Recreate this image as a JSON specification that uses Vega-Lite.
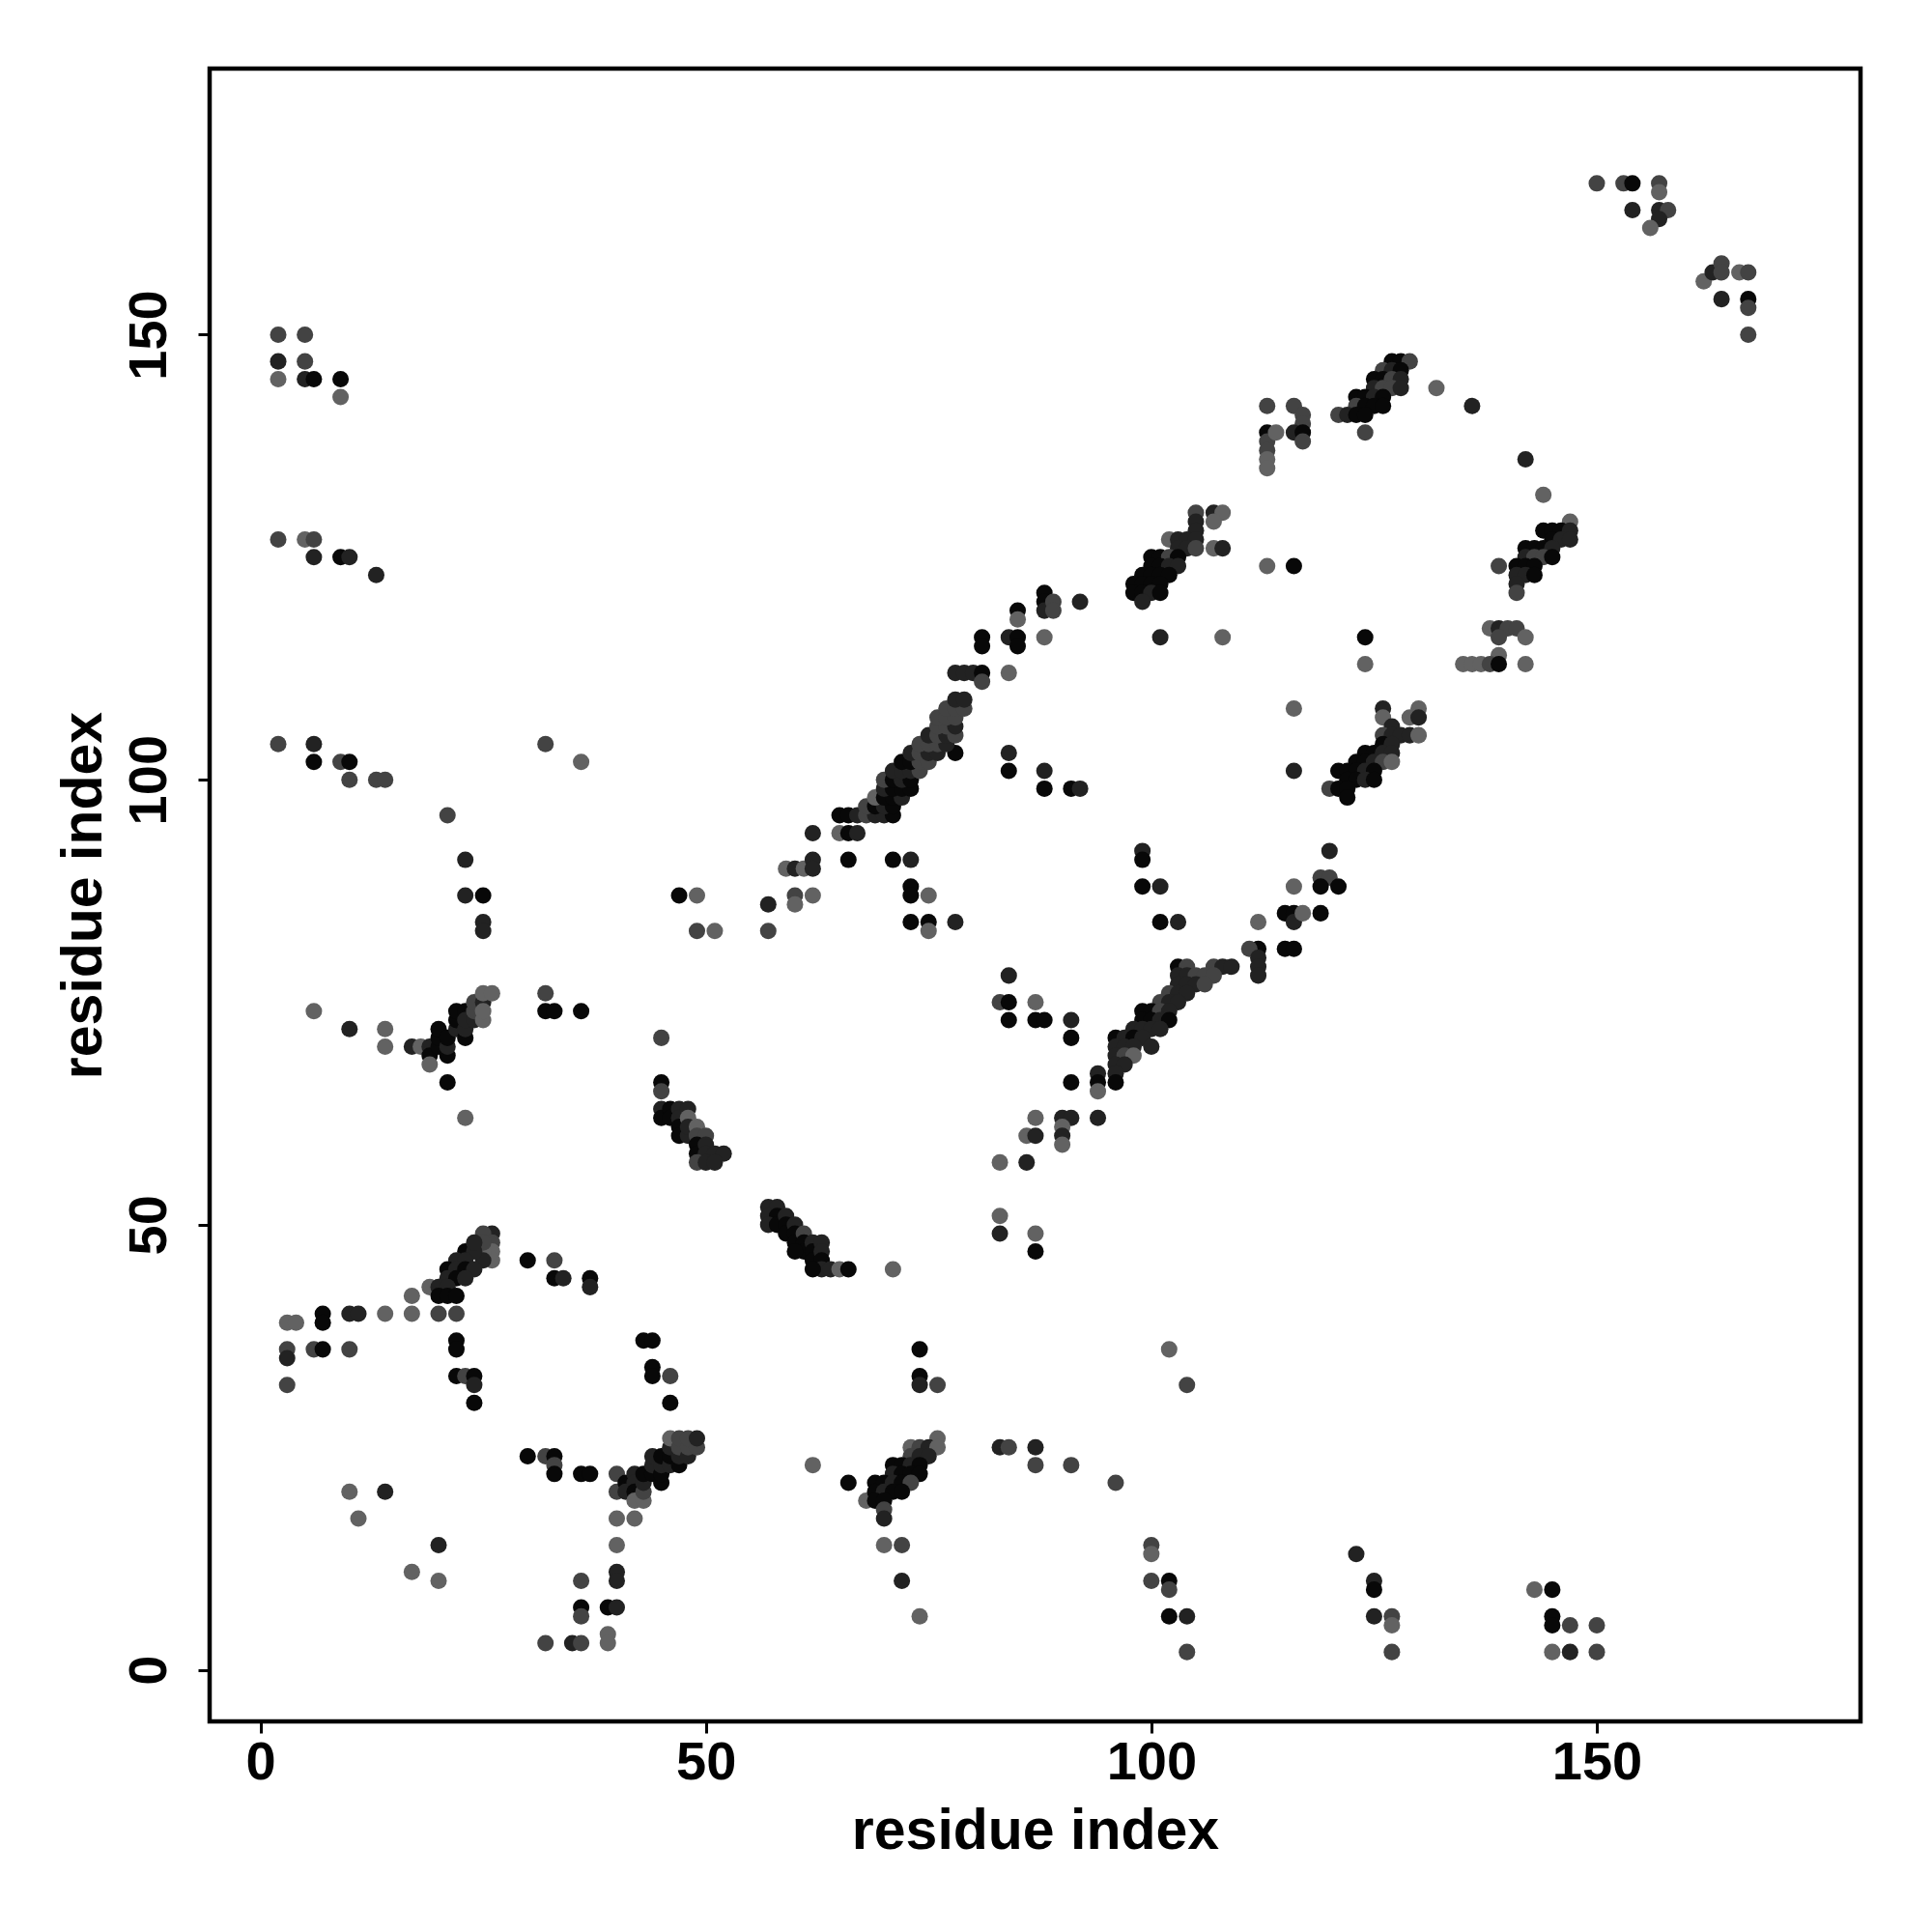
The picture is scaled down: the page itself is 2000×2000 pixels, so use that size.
{
"$schema":"https://vega.github.io/schema/vega-lite/v6.json",
"autosize":{"type":"none"},
"padding":{"left":217,"top":71,"right":74,"bottom":218},
"width":1709,"height":1711,
"background":"white",
"config":{"view":{"stroke":"#000000","strokeWidth":4.5},"font":"Liberation Sans"},
"data":{"values":[
{"x":2,"y":150,"p":0.35},{"x":5,"y":150,"p":0.35},{"x":2,"y":147,"p":0.7},{"x":5,"y":147,"p":0.35},{"x":2,"y":145,"p":0.05},{"x":5,"y":145,"p":0.7},{"x":6,"y":145,"p":0.95},{"x":9,"y":145,"p":0.95},{"x":9,"y":143,"p":0.05},
{"x":2,"y":127,"p":0.35},{"x":5,"y":127,"p":0.05},{"x":6,"y":127,"p":0.35},{"x":6,"y":125,"p":0.7},{"x":9,"y":125,"p":0.95},{"x":10,"y":125,"p":0.7},{"x":13,"y":123,"p":0.7},
{"x":2,"y":104,"p":0.35},{"x":6,"y":104,"p":0.7},{"x":6,"y":102,"p":0.95},{"x":9,"y":102,"p":0.35},{"x":10,"y":102,"p":0.95},{"x":10,"y":100,"p":0.35},{"x":13,"y":100,"p":0.35},{"x":14,"y":100,"p":0.35},
{"x":32,"y":104,"p":0.35},{"x":36,"y":102,"p":0.05},{"x":21,"y":96,"p":0.35},{"x":23,"y":91,"p":0.7},{"x":23,"y":87,"p":0.7},{"x":25,"y":87,"p":0.95},{"x":25,"y":84,"p":0.7},{"x":25,"y":83,"p":0.7},
{"x":47,"y":87,"p":0.95},{"x":49,"y":87,"p":0.05},{"x":49,"y":83,"p":0.35},{"x":51,"y":83,"p":0.05},
{"x":6,"y":74,"p":0.05},{"x":10,"y":72,"p":0.7},{"x":14,"y":72,"p":0.05},{"x":14,"y":70,"p":0.05},{"x":17,"y":70,"p":0.7},{"x":18,"y":70,"p":0.05},{"x":19,"y":70,"p":0.7},{"x":19,"y":69,"p":0.95},{"x":19,"y":68,"p":0.05},{"x":20,"y":70,"p":0.95},{"x":20,"y":71,"p":0.95},{"x":20,"y":72,"p":0.95},{"x":21,"y":69,"p":0.95},{"x":21,"y":70,"p":0.7},{"x":21,"y":71,"p":0.95},{"x":22,"y":72,"p":0.7},{"x":22,"y":73,"p":0.95},{"x":22,"y":74,"p":0.95},{"x":23,"y":74,"p":0.95},{"x":23,"y":71,"p":0.95},{"x":23,"y":72,"p":0.7},{"x":23,"y":73,"p":0.7},{"x":24,"y":73,"p":0.7},{"x":24,"y":74,"p":0.35},{"x":24,"y":75,"p":0.35},{"x":25,"y":75,"p":0.7},{"x":25,"y":76,"p":0.05},{"x":26,"y":76,"p":0.05},{"x":25,"y":73,"p":0.05},{"x":25,"y":74,"p":0.05},{"x":21,"y":66,"p":0.95},{"x":23,"y":62,"p":0.05},{"x":32,"y":76,"p":0.35},{"x":32,"y":74,"p":0.95},{"x":33,"y":74,"p":0.95},{"x":36,"y":74,"p":0.95},
{"x":45,"y":71,"p":0.35},{"x":45,"y":66,"p":0.95},{"x":45,"y":65,"p":0.35},{"x":45,"y":63,"p":0.7},{"x":45,"y":62,"p":0.95},{"x":46,"y":63,"p":0.95},{"x":46,"y":62,"p":0.95},{"x":47,"y":63,"p":0.7},{"x":47,"y":62,"p":0.7},{"x":47,"y":61,"p":0.95},{"x":48,"y":63,"p":0.7},{"x":48,"y":62,"p":0.05},{"x":47,"y":60,"p":0.95},{"x":48,"y":60,"p":0.7},{"x":48,"y":61,"p":0.7},{"x":49,"y":61,"p":0.05},{"x":49,"y":60,"p":0.35},{"x":50,"y":60,"p":0.35},{"x":49,"y":59,"p":0.95},{"x":49,"y":58,"p":0.95},{"x":50,"y":59,"p":0.7},{"x":50,"y":58,"p":0.7},{"x":51,"y":58,"p":0.7},{"x":52,"y":58,"p":0.7},{"x":49,"y":57,"p":0.35},{"x":50,"y":57,"p":0.7},{"x":51,"y":57,"p":0.7},
{"x":26,"y":49,"p":0.7},{"x":25,"y":49,"p":0.35},{"x":26,"y":48,"p":0.35},{"x":26,"y":47,"p":0.05},{"x":26,"y":46,"p":0.05},{"x":25,"y":47,"p":0.05},{"x":25,"y":46,"p":0.7},{"x":25,"y":48,"p":0.35},{"x":23,"y":47,"p":0.95},{"x":24,"y":47,"p":0.7},{"x":24,"y":48,"p":0.7},{"x":22,"y":46,"p":0.7},{"x":23,"y":46,"p":0.7},{"x":21,"y":45,"p":0.95},{"x":22,"y":45,"p":0.7},{"x":23,"y":45,"p":0.95},{"x":24,"y":45,"p":0.7},{"x":21,"y":44,"p":0.7},{"x":22,"y":44,"p":0.95},{"x":23,"y":44,"p":0.7},{"x":19,"y":43,"p":0.05},{"x":20,"y":43,"p":0.7},{"x":21,"y":43,"p":0.7},{"x":20,"y":42,"p":0.95},{"x":21,"y":42,"p":0.95},{"x":22,"y":42,"p":0.95},{"x":17,"y":42,"p":0.05},{"x":30,"y":46,"p":0.95},{"x":33,"y":46,"p":0.35},{"x":33,"y":44,"p":0.95},{"x":34,"y":44,"p":0.7},{"x":37,"y":44,"p":0.95},{"x":37,"y":43,"p":0.7},
{"x":7,"y":40,"p":0.95},{"x":10,"y":40,"p":0.7},{"x":11,"y":40,"p":0.7},{"x":14,"y":40,"p":0.05},{"x":17,"y":40,"p":0.05},{"x":20,"y":40,"p":0.35},{"x":22,"y":40,"p":0.35},
{"x":3,"y":39,"p":0.05},{"x":4,"y":39,"p":0.05},{"x":7,"y":39,"p":0.95},{"x":3,"y":36,"p":0.35},{"x":3,"y":35,"p":0.7},{"x":6,"y":36,"p":0.35},{"x":7,"y":36,"p":0.95},{"x":10,"y":36,"p":0.35},{"x":3,"y":32,"p":0.35},
{"x":22,"y":37,"p":0.95},{"x":22,"y":36,"p":0.95},{"x":22,"y":33,"p":0.95},{"x":23,"y":33,"p":0.35},{"x":24,"y":33,"p":0.95},{"x":24,"y":32,"p":0.7},{"x":24,"y":30,"p":0.95},
{"x":43,"y":37,"p":0.95},{"x":44,"y":37,"p":0.95},{"x":44,"y":34,"p":0.95},{"x":44,"y":33,"p":0.95},{"x":46,"y":33,"p":0.35},{"x":46,"y":30,"p":0.95},
{"x":30,"y":24,"p":0.95},{"x":32,"y":24,"p":0.35},{"x":33,"y":24,"p":0.95},{"x":33,"y":23,"p":0.35},{"x":33,"y":22,"p":0.95},{"x":36,"y":22,"p":0.95},{"x":37,"y":22,"p":0.95},{"x":40,"y":22,"p":0.35},{"x":40,"y":20,"p":0.35},{"x":40,"y":17,"p":0.05},{"x":42,"y":17,"p":0.05},{"x":40,"y":14,"p":0.05},{"x":40,"y":11,"p":0.7},{"x":40,"y":10,"p":0.7},{"x":39,"y":7,"p":0.95},{"x":40,"y":7,"p":0.7},{"x":39,"y":4,"p":0.05},{"x":39,"y":3,"p":0.05},{"x":36,"y":10,"p":0.35},{"x":36,"y":7,"p":0.95},{"x":36,"y":6,"p":0.35},{"x":35,"y":3,"p":0.7},{"x":36,"y":3,"p":0.35},{"x":32,"y":3,"p":0.35},
{"x":41,"y":21,"p":0.95},{"x":41,"y":20,"p":0.7},{"x":42,"y":22,"p":0.7},{"x":42,"y":21,"p":0.7},{"x":42,"y":20,"p":0.95},{"x":42,"y":19,"p":0.05},{"x":43,"y":19,"p":0.05},{"x":43,"y":20,"p":0.35},{"x":43,"y":21,"p":0.7},{"x":43,"y":22,"p":0.95},{"x":44,"y":22,"p":0.95},{"x":44,"y":23,"p":0.7},{"x":44,"y":24,"p":0.7},{"x":45,"y":21,"p":0.95},{"x":45,"y":22,"p":0.95},{"x":45,"y":23,"p":0.7},{"x":45,"y":24,"p":0.95},{"x":46,"y":23,"p":0.7},{"x":46,"y":24,"p":0.95},{"x":46,"y":25,"p":0.7},{"x":46,"y":26,"p":0.05},{"x":47,"y":23,"p":0.95},{"x":47,"y":24,"p":0.7},{"x":47,"y":25,"p":0.35},{"x":47,"y":26,"p":0.35},{"x":48,"y":24,"p":0.7},{"x":48,"y":25,"p":0.35},{"x":48,"y":26,"p":0.35},{"x":49,"y":25,"p":0.35},{"x":49,"y":26,"p":0.7},
{"x":10,"y":20,"p":0.05},{"x":14,"y":20,"p":0.7},{"x":11,"y":17,"p":0.05},{"x":20,"y":14,"p":0.7},{"x":17,"y":11,"p":0.05},{"x":20,"y":10,"p":0.05},
{"x":57,"y":52,"p":0.7},{"x":58,"y":52,"p":0.7},{"x":57,"y":51,"p":0.7},{"x":58,"y":51,"p":0.95},{"x":57,"y":50,"p":0.7},{"x":58,"y":50,"p":0.95},{"x":59,"y":51,"p":0.7},{"x":59,"y":50,"p":0.95},{"x":59,"y":49,"p":0.95},{"x":60,"y":50,"p":0.7},{"x":60,"y":49,"p":0.95},{"x":60,"y":48,"p":0.95},{"x":61,"y":49,"p":0.35},{"x":61,"y":48,"p":0.95},{"x":61,"y":47,"p":0.95},{"x":62,"y":48,"p":0.7},{"x":62,"y":47,"p":0.95},{"x":62,"y":46,"p":0.95},{"x":63,"y":48,"p":0.7},{"x":63,"y":47,"p":0.7},{"x":63,"y":46,"p":0.95},{"x":63,"y":45,"p":0.7},{"x":62,"y":45,"p":0.95},{"x":64,"y":45,"p":0.7},{"x":65,"y":45,"p":0.05},{"x":66,"y":45,"p":0.95},{"x":71,"y":45,"p":0.05},{"x":60,"y":47,"p":0.95},
{"x":57,"y":86,"p":0.7},{"x":60,"y":87,"p":0.35},{"x":60,"y":86,"p":0.05},{"x":62,"y":87,"p":0.05},{"x":57,"y":83,"p":0.35},{"x":59,"y":90,"p":0.05},{"x":60,"y":90,"p":0.7},{"x":61,"y":90,"p":0.05},{"x":62,"y":91,"p":0.7},{"x":62,"y":90,"p":0.7},{"x":62,"y":94,"p":0.7},{"x":65,"y":94,"p":0.05},{"x":66,"y":94,"p":0.95},{"x":67,"y":94,"p":0.7},{"x":66,"y":91,"p":0.95},{"x":71,"y":91,"p":0.95},{"x":73,"y":91,"p":0.7},{"x":73,"y":88,"p":0.95},{"x":73,"y":87,"p":0.95},{"x":75,"y":87,"p":0.05},{"x":73,"y":84,"p":0.95},{"x":75,"y":84,"p":0.95},{"x":75,"y":83,"p":0.05},{"x":78,"y":84,"p":0.7},
{"x":65,"y":96,"p":0.95},{"x":66,"y":96,"p":0.95},{"x":67,"y":96,"p":0.7},{"x":68,"y":96,"p":0.35},{"x":69,"y":96,"p":0.7},{"x":70,"y":96,"p":0.7},{"x":71,"y":96,"p":0.95},
{"x":68,"y":97,"p":0.35},{"x":69,"y":97,"p":0.95},{"x":70,"y":97,"p":0.7},{"x":71,"y":97,"p":0.95},
{"x":69,"y":98,"p":0.05},{"x":70,"y":98,"p":0.95},{"x":71,"y":98,"p":0.95},{"x":72,"y":98,"p":0.7},
{"x":70,"y":99,"p":0.7},{"x":71,"y":99,"p":0.95},{"x":72,"y":99,"p":0.95},{"x":73,"y":99,"p":0.95},
{"x":70,"y":100,"p":0.35},{"x":71,"y":100,"p":0.95},{"x":72,"y":100,"p":0.7},{"x":73,"y":100,"p":0.95},
{"x":71,"y":101,"p":0.7},{"x":72,"y":101,"p":0.7},{"x":73,"y":101,"p":0.7},{"x":74,"y":101,"p":0.35},
{"x":72,"y":102,"p":0.95},{"x":73,"y":102,"p":0.95},{"x":74,"y":102,"p":0.35},{"x":75,"y":102,"p":0.35},
{"x":73,"y":103,"p":0.7},{"x":74,"y":103,"p":0.35},{"x":75,"y":103,"p":0.7},{"x":76,"y":103,"p":0.7},{"x":78,"y":103,"p":0.95},
{"x":74,"y":104,"p":0.35},{"x":75,"y":104,"p":0.35},{"x":76,"y":104,"p":0.35},{"x":77,"y":104,"p":0.7},
{"x":75,"y":105,"p":0.7},{"x":76,"y":105,"p":0.35},{"x":77,"y":105,"p":0.7},{"x":78,"y":105,"p":0.35},
{"x":76,"y":106,"p":0.35},{"x":77,"y":106,"p":0.35},{"x":78,"y":106,"p":0.7},
{"x":76,"y":107,"p":0.35},{"x":77,"y":107,"p":0.35},{"x":78,"y":107,"p":0.35},
{"x":77,"y":108,"p":0.35},{"x":78,"y":108,"p":0.35},{"x":79,"y":108,"p":0.35},
{"x":78,"y":109,"p":0.7},{"x":79,"y":109,"p":0.7},
{"x":78,"y":112,"p":0.7},{"x":79,"y":112,"p":0.7},{"x":80,"y":112,"p":0.7},{"x":81,"y":112,"p":0.95},{"x":81,"y":111,"p":0.35},{"x":84,"y":112,"p":0.05},{"x":81,"y":116,"p":0.95},{"x":81,"y":115,"p":0.95},{"x":84,"y":116,"p":0.7},{"x":85,"y":116,"p":0.95},{"x":85,"y":115,"p":0.95},{"x":88,"y":116,"p":0.05},{"x":85,"y":119,"p":0.95},{"x":85,"y":118,"p":0.05},{"x":88,"y":121,"p":0.95},{"x":88,"y":120,"p":0.95},{"x":88,"y":119,"p":0.7},{"x":89,"y":120,"p":0.35},{"x":89,"y":119,"p":0.35},{"x":92,"y":120,"p":0.7},
{"x":84,"y":103,"p":0.7},{"x":84,"y":101,"p":0.95},{"x":88,"y":101,"p":0.7},{"x":88,"y":99,"p":0.95},{"x":91,"y":99,"p":0.95},{"x":92,"y":99,"p":0.7},{"x":99,"y":92,"p":0.7},{"x":99,"y":91,"p":0.95},{"x":99,"y":88,"p":0.95},{"x":101,"y":88,"p":0.7},{"x":116,"y":88,"p":0.05},{"x":116,"y":101,"p":0.7},{"x":116,"y":108,"p":0.05},
{"x":105,"y":130,"p":0.35},{"x":107,"y":130,"p":0.7},{"x":108,"y":130,"p":0.05},{"x":105,"y":129,"p":0.7},{"x":107,"y":129,"p":0.05},{"x":105,"y":128,"p":0.7},{"x":102,"y":127,"p":0.05},{"x":103,"y":127,"p":0.7},{"x":104,"y":127,"p":0.7},{"x":105,"y":127,"p":0.7},{"x":103,"y":126,"p":0.7},{"x":104,"y":126,"p":0.7},{"x":105,"y":126,"p":0.35},{"x":107,"y":126,"p":0.05},{"x":108,"y":126,"p":0.7},{"x":100,"y":125,"p":0.95},{"x":101,"y":125,"p":0.95},{"x":102,"y":125,"p":0.35},{"x":103,"y":125,"p":0.95},{"x":100,"y":124,"p":0.95},{"x":101,"y":124,"p":0.95},{"x":102,"y":124,"p":0.7},{"x":103,"y":124,"p":0.7},{"x":99,"y":123,"p":0.95},{"x":100,"y":123,"p":0.95},{"x":101,"y":123,"p":0.95},{"x":102,"y":123,"p":0.95},{"x":98,"y":122,"p":0.95},{"x":99,"y":122,"p":0.95},{"x":100,"y":122,"p":0.95},{"x":101,"y":122,"p":0.95},{"x":98,"y":121,"p":0.95},{"x":99,"y":121,"p":0.95},{"x":100,"y":121,"p":0.7},{"x":101,"y":121,"p":0.95},{"x":99,"y":120,"p":0.7},
{"x":113,"y":124,"p":0.05},{"x":116,"y":124,"p":0.95},{"x":101,"y":116,"p":0.7},{"x":108,"y":116,"p":0.05},
{"x":113,"y":142,"p":0.35},{"x":116,"y":142,"p":0.35},{"x":113,"y":139,"p":0.95},{"x":113,"y":138,"p":0.35},{"x":113,"y":137,"p":0.35},{"x":113,"y":136,"p":0.05},{"x":113,"y":135,"p":0.05},{"x":114,"y":139,"p":0.05},{"x":117,"y":141,"p":0.35},{"x":117,"y":140,"p":0.35},{"x":116,"y":139,"p":0.7},{"x":117,"y":139,"p":0.95},{"x":117,"y":138,"p":0.35},
{"x":127,"y":147,"p":0.95},{"x":128,"y":147,"p":0.95},{"x":129,"y":147,"p":0.35},{"x":126,"y":146,"p":0.35},{"x":127,"y":146,"p":0.7},{"x":128,"y":146,"p":0.95},{"x":125,"y":145,"p":0.95},{"x":126,"y":145,"p":0.95},{"x":127,"y":145,"p":0.35},{"x":128,"y":145,"p":0.7},{"x":125,"y":144,"p":0.7},{"x":126,"y":144,"p":0.35},{"x":127,"y":144,"p":0.35},{"x":128,"y":144,"p":0.7},{"x":123,"y":143,"p":0.95},{"x":124,"y":143,"p":0.95},{"x":125,"y":143,"p":0.7},{"x":126,"y":143,"p":0.95},{"x":123,"y":142,"p":0.35},{"x":124,"y":142,"p":0.95},{"x":125,"y":142,"p":0.95},{"x":126,"y":142,"p":0.95},{"x":121,"y":141,"p":0.35},{"x":122,"y":141,"p":0.7},{"x":123,"y":141,"p":0.95},{"x":124,"y":141,"p":0.95},{"x":124,"y":139,"p":0.35},{"x":132,"y":144,"p":0.05},{"x":136,"y":142,"p":0.7},{"x":142,"y":136,"p":0.7},
{"x":150,"y":167,"p":0.35},{"x":153,"y":167,"p":0.35},{"x":154,"y":167,"p":0.95},{"x":157,"y":167,"p":0.35},{"x":157,"y":166,"p":0.05},{"x":154,"y":164,"p":0.7},{"x":157,"y":164,"p":0.7},{"x":158,"y":164,"p":0.35},{"x":157,"y":163,"p":0.7},{"x":156,"y":162,"p":0.05},{"x":162,"y":156,"p":0.05},{"x":163,"y":157,"p":0.7},{"x":164,"y":158,"p":0.35},{"x":164,"y":157,"p":0.35},{"x":166,"y":157,"p":0.05},{"x":167,"y":157,"p":0.35},{"x":164,"y":154,"p":0.7},{"x":167,"y":154,"p":0.95},{"x":167,"y":153,"p":0.35},{"x":167,"y":150,"p":0.35},
{"x":144,"y":132,"p":0.05},{"x":147,"y":129,"p":0.05},{"x":144,"y":128,"p":0.95},{"x":145,"y":128,"p":0.95},{"x":146,"y":128,"p":0.95},{"x":147,"y":128,"p":0.7},{"x":145,"y":127,"p":0.95},{"x":146,"y":127,"p":0.7},{"x":147,"y":127,"p":0.7},{"x":142,"y":126,"p":0.95},{"x":143,"y":126,"p":0.95},{"x":144,"y":126,"p":0.95},{"x":145,"y":126,"p":0.7},{"x":142,"y":125,"p":0.7},{"x":143,"y":125,"p":0.35},{"x":144,"y":125,"p":0.35},{"x":145,"y":125,"p":0.95},{"x":139,"y":124,"p":0.35},{"x":141,"y":124,"p":0.95},{"x":142,"y":124,"p":0.95},{"x":143,"y":124,"p":0.95},{"x":141,"y":123,"p":0.7},{"x":142,"y":123,"p":0.7},{"x":143,"y":123,"p":0.95},{"x":141,"y":122,"p":0.7},{"x":141,"y":121,"p":0.35},
{"x":124,"y":116,"p":0.95},{"x":124,"y":113,"p":0.05},{"x":138,"y":117,"p":0.05},{"x":139,"y":117,"p":0.7},{"x":140,"y":117,"p":0.35},{"x":141,"y":117,"p":0.35},{"x":139,"y":116,"p":0.35},{"x":142,"y":116,"p":0.05},{"x":139,"y":114,"p":0.05},{"x":135,"y":113,"p":0.05},{"x":136,"y":113,"p":0.05},{"x":137,"y":113,"p":0.05},{"x":138,"y":113,"p":0.35},{"x":139,"y":113,"p":0.95},{"x":142,"y":113,"p":0.05},
{"x":126,"y":108,"p":0.7},{"x":130,"y":108,"p":0.05},{"x":126,"y":107,"p":0.05},{"x":129,"y":107,"p":0.05},{"x":130,"y":107,"p":0.7},{"x":127,"y":106,"p":0.7},{"x":126,"y":105,"p":0.35},{"x":127,"y":105,"p":0.7},{"x":128,"y":105,"p":0.7},{"x":129,"y":105,"p":0.7},{"x":130,"y":105,"p":0.05},{"x":126,"y":104,"p":0.95},{"x":127,"y":104,"p":0.7},{"x":124,"y":103,"p":0.95},{"x":125,"y":103,"p":0.95},{"x":126,"y":103,"p":0.7},{"x":127,"y":103,"p":0.7},{"x":123,"y":102,"p":0.95},{"x":124,"y":102,"p":0.95},{"x":125,"y":102,"p":0.7},{"x":126,"y":102,"p":0.35},{"x":127,"y":102,"p":0.05},{"x":121,"y":101,"p":0.95},{"x":122,"y":101,"p":0.95},{"x":123,"y":101,"p":0.95},{"x":124,"y":101,"p":0.7},{"x":125,"y":101,"p":0.95},{"x":122,"y":100,"p":0.95},{"x":123,"y":100,"p":0.95},{"x":124,"y":100,"p":0.7},{"x":125,"y":100,"p":0.95},{"x":120,"y":99,"p":0.35},{"x":121,"y":99,"p":0.95},{"x":122,"y":99,"p":0.95},{"x":122,"y":98,"p":0.95},
{"x":120,"y":92,"p":0.7},{"x":119,"y":89,"p":0.35},{"x":120,"y":89,"p":0.35},{"x":121,"y":88,"p":0.95},{"x":119,"y":88,"p":0.95},
{"x":103,"y":79,"p":0.95},{"x":104,"y":79,"p":0.35},{"x":107,"y":79,"p":0.35},{"x":108,"y":79,"p":0.7},{"x":109,"y":79,"p":0.7},{"x":103,"y":78,"p":0.7},{"x":104,"y":78,"p":0.7},{"x":105,"y":78,"p":0.35},{"x":106,"y":78,"p":0.35},{"x":107,"y":78,"p":0.35},{"x":103,"y":77,"p":0.7},{"x":104,"y":77,"p":0.7},{"x":105,"y":77,"p":0.7},{"x":106,"y":77,"p":0.35},{"x":102,"y":76,"p":0.35},{"x":103,"y":76,"p":0.7},{"x":104,"y":76,"p":0.7},{"x":101,"y":75,"p":0.35},{"x":102,"y":75,"p":0.7},{"x":103,"y":75,"p":0.7},{"x":99,"y":74,"p":0.95},{"x":100,"y":74,"p":0.95},{"x":101,"y":74,"p":0.35},{"x":102,"y":74,"p":0.7},{"x":99,"y":73,"p":0.95},{"x":100,"y":73,"p":0.95},{"x":101,"y":73,"p":0.7},{"x":102,"y":73,"p":0.95},{"x":98,"y":72,"p":0.7},{"x":99,"y":72,"p":0.7},{"x":100,"y":72,"p":0.7},{"x":101,"y":72,"p":0.7},{"x":96,"y":71,"p":0.95},{"x":97,"y":71,"p":0.7},{"x":98,"y":71,"p":0.95},{"x":99,"y":71,"p":0.7},{"x":96,"y":70,"p":0.7},{"x":97,"y":70,"p":0.7},{"x":98,"y":70,"p":0.7},{"x":100,"y":70,"p":0.7},{"x":96,"y":69,"p":0.7},{"x":97,"y":69,"p":0.35},{"x":98,"y":69,"p":0.05},{"x":96,"y":68,"p":0.7},{"x":97,"y":68,"p":0.7},{"x":94,"y":67,"p":0.7},{"x":96,"y":67,"p":0.7},{"x":94,"y":66,"p":0.95},{"x":96,"y":66,"p":0.95},{"x":94,"y":65,"p":0.05},
{"x":91,"y":73,"p":0.7},{"x":91,"y":71,"p":0.95},{"x":91,"y":66,"p":0.95},{"x":84,"y":78,"p":0.7},{"x":83,"y":75,"p":0.35},{"x":84,"y":75,"p":0.95},{"x":87,"y":75,"p":0.05},{"x":84,"y":73,"p":0.95},{"x":87,"y":73,"p":0.95},{"x":88,"y":73,"p":0.95},{"x":87,"y":62,"p":0.05},{"x":90,"y":62,"p":0.7},{"x":91,"y":62,"p":0.7},{"x":90,"y":61,"p":0.05},{"x":90,"y":60,"p":0.7},{"x":90,"y":59,"p":0.05},{"x":94,"y":62,"p":0.7},{"x":86,"y":60,"p":0.05},{"x":87,"y":60,"p":0.7},{"x":83,"y":57,"p":0.05},{"x":86,"y":57,"p":0.7},{"x":83,"y":51,"p":0.05},{"x":83,"y":49,"p":0.7},{"x":87,"y":49,"p":0.05},{"x":87,"y":47,"p":0.95},
{"x":101,"y":84,"p":0.95},{"x":103,"y":84,"p":0.7},{"x":112,"y":84,"p":0.05},{"x":115,"y":85,"p":0.95},{"x":116,"y":85,"p":0.95},{"x":116,"y":84,"p":0.7},{"x":117,"y":85,"p":0.05},{"x":119,"y":85,"p":0.95},{"x":112,"y":81,"p":0.95},{"x":111,"y":81,"p":0.35},{"x":112,"y":80,"p":0.7},{"x":112,"y":79,"p":0.7},{"x":112,"y":78,"p":0.7},{"x":115,"y":81,"p":0.95},{"x":116,"y":81,"p":0.95},
{"x":74,"y":36,"p":0.95},{"x":74,"y":33,"p":0.95},{"x":74,"y":32,"p":0.7},{"x":76,"y":32,"p":0.35},{"x":62,"y":23,"p":0.05},{"x":66,"y":21,"p":0.95},{"x":68,"y":19,"p":0.05},
{"x":76,"y":26,"p":0.05},{"x":73,"y":25,"p":0.05},{"x":74,"y":25,"p":0.35},{"x":75,"y":25,"p":0.7},{"x":76,"y":25,"p":0.05},{"x":73,"y":24,"p":0.35},{"x":74,"y":24,"p":0.7},{"x":75,"y":24,"p":0.7},{"x":71,"y":23,"p":0.95},{"x":72,"y":23,"p":0.95},{"x":73,"y":23,"p":0.7},{"x":74,"y":23,"p":0.95},{"x":71,"y":22,"p":0.7},{"x":72,"y":22,"p":0.95},{"x":73,"y":22,"p":0.95},{"x":74,"y":22,"p":0.95},{"x":69,"y":21,"p":0.95},{"x":70,"y":21,"p":0.95},{"x":71,"y":21,"p":0.7},{"x":72,"y":21,"p":0.95},{"x":73,"y":21,"p":0.35},{"x":69,"y":20,"p":0.95},{"x":70,"y":20,"p":0.7},{"x":71,"y":20,"p":0.95},{"x":72,"y":20,"p":0.95},{"x":69,"y":19,"p":0.95},{"x":70,"y":19,"p":0.95},{"x":70,"y":18,"p":0.35},{"x":70,"y":17,"p":0.7},
{"x":70,"y":14,"p":0.05},{"x":72,"y":14,"p":0.35},{"x":72,"y":10,"p":0.7},{"x":74,"y":6,"p":0.05},{"x":83,"y":25,"p":0.7},{"x":84,"y":25,"p":0.35},{"x":87,"y":25,"p":0.7},{"x":87,"y":23,"p":0.35},{"x":91,"y":23,"p":0.35},{"x":96,"y":21,"p":0.35},{"x":102,"y":36,"p":0.05},{"x":104,"y":32,"p":0.35},{"x":100,"y":14,"p":0.35},{"x":100,"y":13,"p":0.05},{"x":100,"y":10,"p":0.35},{"x":102,"y":10,"p":0.95},{"x":102,"y":9,"p":0.35},{"x":102,"y":6,"p":0.95},{"x":104,"y":6,"p":0.7},{"x":104,"y":2,"p":0.35},
{"x":123,"y":13,"p":0.7},{"x":125,"y":10,"p":0.7},{"x":125,"y":9,"p":0.95},{"x":125,"y":6,"p":0.7},{"x":127,"y":6,"p":0.35},{"x":127,"y":5,"p":0.05},{"x":127,"y":2,"p":0.35},{"x":143,"y":9,"p":0.05},{"x":145,"y":9,"p":0.95},{"x":145,"y":6,"p":0.95},{"x":145,"y":5,"p":0.95},{"x":147,"y":5,"p":0.35},{"x":150,"y":5,"p":0.35},{"x":145,"y":2,"p":0.05},{"x":147,"y":2,"p":0.7},{"x":150,"y":2,"p":0.35}
]},
"mark":{"type":"point","shape":"circle","filled":true,"size":290,"opacity":1,"strokeWidth":0},
"encoding":{
"x":{"field":"x","type":"quantitative","scale":{"domain":[-5.7,179.6],"nice":false,"zero":false},
 "axis":{"values":[0,50,100,150],"grid":false,"domain":false,"tickSize":12,"tickWidth":3,"tickColor":"#000000","labelFont":"Liberation Sans","labelFontWeight":"bold","labelFontSize":56,"labelColor":"#000000","labelPadding":3,"labelBaseline":"top","labelAlign":"center","labelFlush":false,"labelOverlap":false,
 "title":"residue index","titleFont":"Liberation Sans","titleFontWeight":"bold","titleFontSize":59,"titleColor":"#000000","titleBaseline":"alphabetic","titleAlign":"center","titleX":854.5,"titleY":131}},
"y":{"field":"y","type":"quantitative","scale":{"domain":[-5.8,179.9],"nice":false,"zero":false},
 "axis":{"values":[0,50,100,150],"grid":false,"domain":false,"tickSize":12,"tickWidth":3,"tickColor":"#000000","labelFont":"Liberation Sans","labelFontWeight":"bold","labelFontSize":56,"labelColor":"#000000","labelAngle":-90,"labelAlign":"center","labelBaseline":"alphabetic","labelPadding":34,"labelFlush":false,"labelOverlap":false,
 "title":"residue index","titleFont":"Liberation Sans","titleFontWeight":"bold","titleFontSize":59,"titleColor":"#000000","titleAngle":-90,"titleAlign":"center","titleBaseline":"alphabetic","titleX":-113,"titleY":855.5}},
"color":{"field":"p","type":"quantitative","scale":{"domain":[0,1],"range":["#676767","#000000"]},"legend":null}
}
}
